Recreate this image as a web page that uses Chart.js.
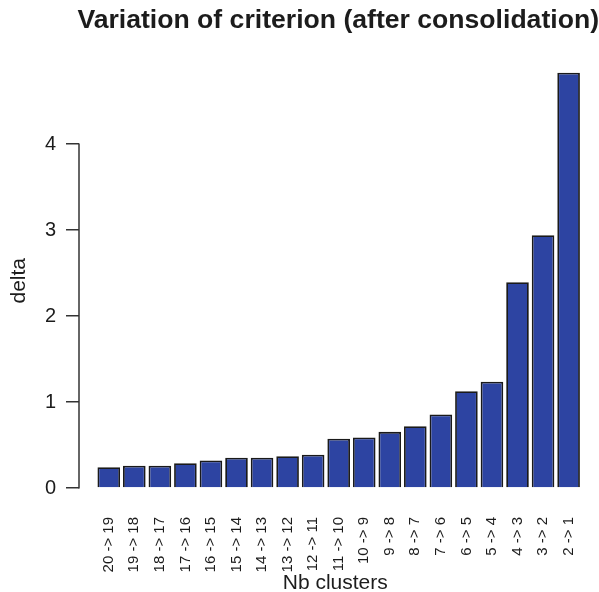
<!DOCTYPE html>
<html>
<head>
<meta charset="utf-8">
<script src="https://cdn.jsdelivr.net/npm/chart.js@4"></script>
<style>
  html, body { margin: 0; padding: 0; background: #ffffff; }
  canvas { display: block; }
</style>
</head>
<body>
<canvas id="c" width="599" height="592"></canvas>
<script>
// ---- data ----
const categories = [
  "20 -> 19", "19 -> 18", "18 -> 17", "17 -> 16", "16 -> 15",
  "15 -> 14", "14 -> 13", "13 -> 12", "12 -> 11", "11 -> 10",
  "10 -> 9", "9 -> 8", "8 -> 7", "7 -> 6", "6 -> 5",
  "5 -> 4", "4 -> 3", "3 -> 2", "2 -> 1"
];
const deltaValues = [
  0.242, 0.258, 0.258, 0.288, 0.320,
  0.351, 0.351, 0.370, 0.386, 0.572,
  0.587, 0.653, 0.719, 0.855, 1.126,
  1.235, 2.393, 2.940, 4.828
];
const yTickValues = [0, 1, 2, 3, 4];
const chartTitle = "Variation of criterion (after consolidation)";
const xAxisTitle = "Nb clusters";
const yAxisTitle = "delta";

// ---- styling ----
const FONT = "'Liberation Sans', Arial, Helvetica, sans-serif";
const TEXT = "#1c1c1c";
const AXIS = "#333333";

// draws the R-style axis line from the first to the last labelled tick
const yAxisLine = {
  id: "yAxisLine",
  afterDraw(chart) {
    const ys = chart.scales.y;
    const x = chart.chartArea.left;
    const ctx = chart.ctx;
    ctx.save();
    ctx.strokeStyle = AXIS;
    ctx.lineWidth = 1.5;
    ctx.lineCap = "round";
    ctx.beginPath();
    ctx.moveTo(x, ys.getPixelForValue(yTickValues[0]));
    ctx.lineTo(x, ys.getPixelForValue(yTickValues[yTickValues.length - 1]));
    ctx.stroke();
    ctx.restore();
  }
};

new Chart(document.getElementById("c"), {
  type: "bar",
  data: {
    datasets: [{
      data: deltaValues.map((v, i) => ({ x: i, y: v })),
      backgroundColor: "#2D44A2",
      borderColor: "#1a1a1a",
      borderWidth: 1.8,
      barPercentage: 0.885,
      categoryPercentage: 1
    }]
  },
  options: {
    responsive: false,
    animation: false,
    layout: { padding: 0 },
    plugins: {
      legend: { display: false },
      tooltip: { enabled: false },
      title: {
        display: true,
        text: chartTitle,
        align: "end",
        color: TEXT,
        font: { family: FONT, size: 26.6, weight: "bold", lineHeight: 1 },
        padding: { top: 7.7, bottom: 22.6 }
      }
    },
    scales: {
      x: {
        type: "linear",
        min: -1.165,
        max: 18.897,
        offset: false,
        afterBuildTicks: (s) => { s.ticks = categories.map((c, i) => ({ value: i })); },
        afterFit: (s) => { s.height = 87.4; },
        grid: { display: false, drawTicks: false },
        border: { display: false },
        ticks: {
          autoSkip: false,
          minRotation: 90,
          maxRotation: 90,
          padding: 12.4,
          color: TEXT,
          font: { family: FONT, size: 15 },
          callback: (v) => (categories[v] !== undefined ? categories[v] : "")
        },
        title: {
          display: true,
          text: xAxisTitle,
          color: TEXT,
          font: { family: FONT, size: 21, lineHeight: 1 },
          padding: { top: 0, bottom: -2 }
        }
      },
      y: {
        type: "linear",
        min: -0.193,
        max: 5.013,
        afterBuildTicks: (s) => { s.ticks = yTickValues.map((v) => ({ value: v })); },
        afterFit: (s) => { s.width = 79; },
        grid: {
          display: true,
          drawOnChartArea: false,
          drawTicks: true,
          tickLength: 13,
          color: AXIS,
          lineWidth: 1.5
        },
        border: { display: false },
        ticks: {
          padding: 10,
          color: TEXT,
          font: { family: FONT, size: 20 }
        },
        title: {
          display: true,
          text: yAxisTitle,
          color: TEXT,
          font: { family: FONT, size: 21, lineHeight: 1 },
          padding: { top: 9, bottom: 0 }
        }
      }
    }
  },
  plugins: [yAxisLine]
});
</script>
</body>
</html>
